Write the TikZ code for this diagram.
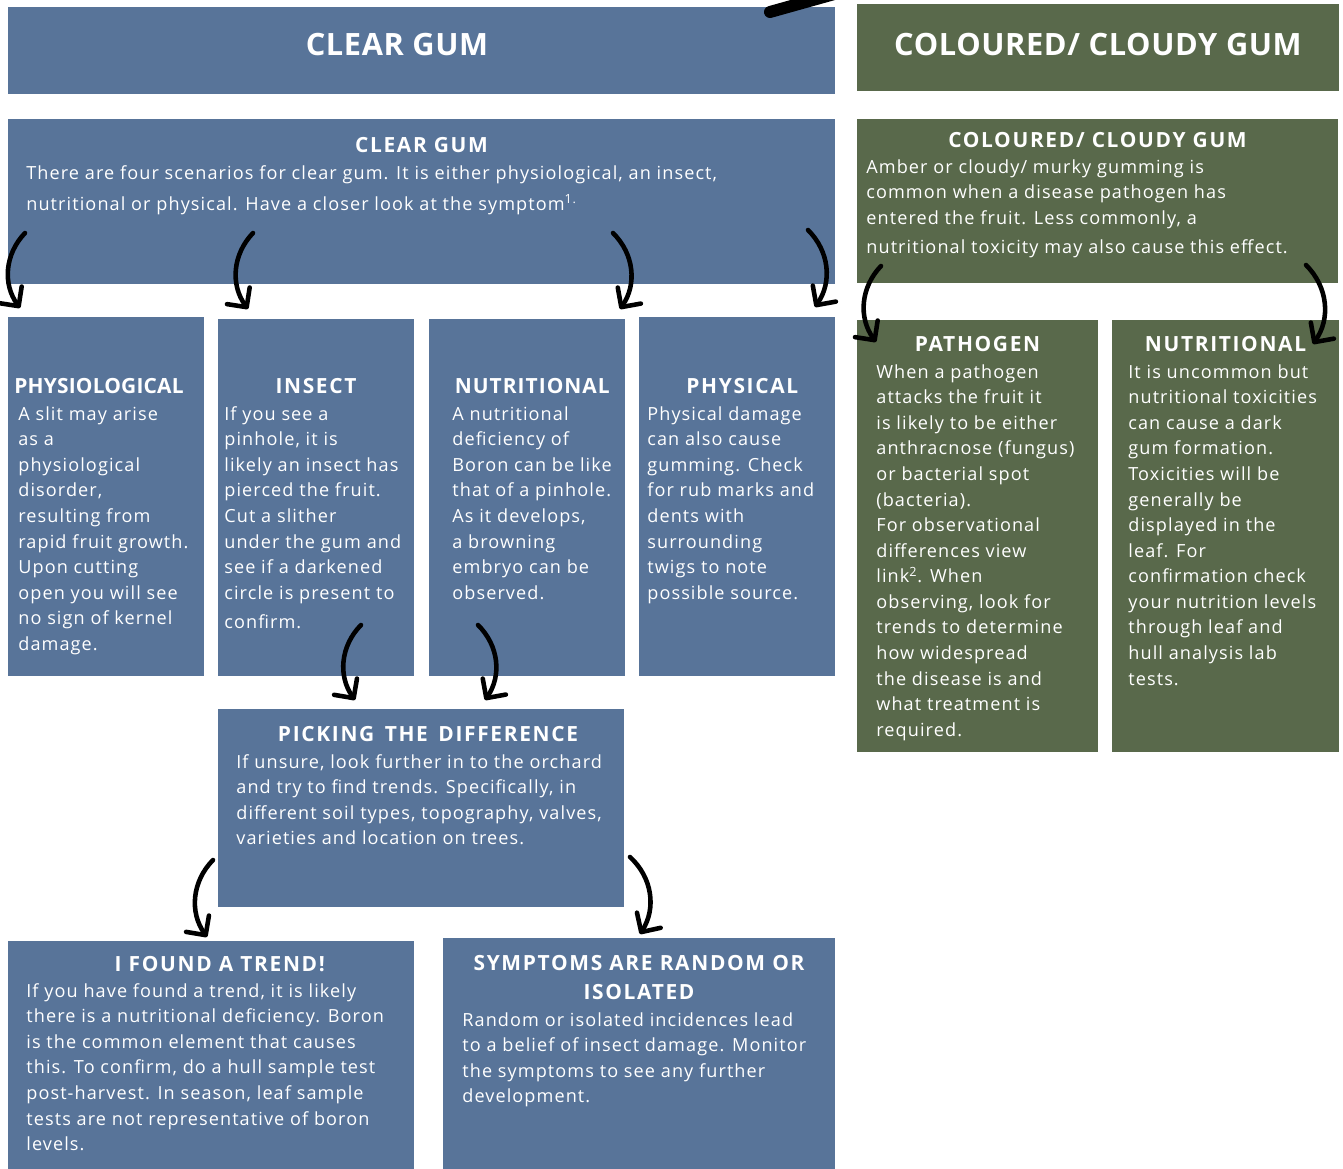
\documentclass[tikz,border=0pt]{standalone}
\usepackage{fontspec}
\setmainfont{Open Sans}
\usetikzlibrary{arrows.meta,fit}
\definecolor{gumblue}{RGB}{88,116,153}
\definecolor{gumgreen}{RGB}{89,105,75}
\tikzset{
  box/.style={inner sep=0pt, outer sep=0pt, text=white},
  bluebox/.style={box, fill=gumblue},
  greenbox/.style={box, fill=gumgreen},
  hdr/.style={text=white, inner sep=0pt,
    font=\fontsize{17.5}{20}\selectfont\bfseries\addfontfeatures{LetterSpace=2}},
  ttl/.style={text=white, inner sep=0pt, anchor=north, align=center,
    font=\fontsize{11.9}{16.5}\selectfont\bfseries\addfontfeatures{LetterSpace=8}},
  txt/.style={text=white, inner sep=0pt, anchor=north west, align=left,
    font=\fontsize{10.3}{14.56}\selectfont\addfontfeatures{LetterSpace=6}},
  arr/.style={line width=2.6pt, line cap=round,
    -{Straight Barb[length=8pt,width=16pt,round]}},
}
\begin{document}
\begin{tikzpicture}[x=0.02cm,y=-0.02cm]
  \useasboundingbox (0,0) rectangle (1343,1169);
  % headers
  \node[bluebox, fit={(8,7) (835,94)}] (clearhdr) {};
  \node[greenbox, fit={(857,4) (1339,91)}] (colhdr) {};
  \node[hdr] (clearhdr-t) at (397,45) {CLEAR GUM};
  \node[hdr] (colhdr-t) at (colhdr.center |- 0,45) {COLOURED/ CLOUDY GUM};
  \draw[line width=0.24cm, line cap=round] (770,12) -- (870,-16);

  % boxes
  \node[bluebox, fit={(8,119) (835,284)}] (clear) {};
  \node[greenbox, fit={(857,119) (1338,283)}] (coloured) {};
  \node[bluebox, fit={(8,317) (204,676)}] (physio) {};
  \node[bluebox, fit={(218,319) (414,676)}] (insect) {};
  \node[bluebox, fit={(429,319) (625,676)}] (nutri) {};
  \node[bluebox, fit={(639,317) (835,676)}] (physical) {};
  \node[greenbox, fit={(857,320) (1098,752)}] (pathogen) {};
  \node[greenbox, fit={(1112,320) (1339,752)}] (toxic) {};
  \node[bluebox, fit={(218,709) (624,907)}] (picking) {};
  \node[bluebox, fit={(8,941) (414,1169)}] (trend) {};
  \node[bluebox, fit={(443,938) (835,1169)}] (random) {};

  % titles
  \node[ttl] (clear-h) at (clear.north |- 0,137) {CLEAR GUM};
  \node[ttl] (coloured-h) at (coloured.north |- 0,132) {COLOURED/ CLOUDY GUM};
  \node[ttl] (physio-h) at ([xshift=-4]physio.north |- 0,378) {\addfontfeatures{LetterSpace=1}PHYSIOLOGICAL};
  \node[ttl] (insect-h) at (insect.north |- 0,378) {INSECT};
  \node[ttl] (nutri-h) at ([xshift=3]nutri.north |- 0,378) {\addfontfeatures{LetterSpace=5}NUTRITIONAL};
  \node[ttl] (physical-h) at ([xshift=3]physical.north |- 0,378) {PHYSICAL};
  \node[ttl] (pathogen-h) at (pathogen.north |- 0,336) {PATHOGEN};
  \node[ttl] (toxic-h) at (toxic.north |- 0,336) {NUTRITIONAL};
  \node[ttl] (picking-h) at ([xshift=4]picking.north |- 0,726) {PICKING\hspace{0.5em}THE\hspace{0.5em}DIFFERENCE};
  \node[ttl] (trend-h) at ([xshift=5]trend.north |- 0,956) {I FOUND A TREND!};
  \node[ttl] (random-h) at (random.north |- 0,955) {SYMPTOMS ARE RANDOM OR\\ISOLATED};

  % texts
  \node[txt] (clear-t) at (26,165) {There are four scenarios for clear gum. It is either physiological, an insect,\\[3pt]
    nutritional or physical. Have a closer look at the symptom\textsuperscript{1.}};
  \node[txt] (coloured-t) at (866,159) {Amber or cloudy/ murky gumming is\\
    common when a disease pathogen has\\
    entered the fruit. Less commonly, a\\[2pt]
    nutritional toxicity may also cause this effect.};
  \node[txt] (physio-t) at (18,406) {A slit may arise\\as a\\physiological\\disorder,\\resulting from\\
    rapid fruit growth.\\Upon cutting\\open you will see\\no sign of kernel\\damage.};
  \node[txt] (insect-t) at (224,406) {If you see a\\pinhole, it is\\likely an insect has\\pierced the fruit.\\
    Cut a slither\\under the gum and\\see if a darkened\\circle is present to\\[2pt]confirm.};
  \node[txt] (nutri-t) at (452,406) {A nutritional\\deficiency of\\Boron can be like\\that of a pinhole.\\
    As it develops,\\a browning\\embryo can be\\observed.};
  \node[txt] (physical-t) at (647,406) {Physical damage\\can also cause\\gumming. Check\\for rub marks and\\
    dents with\\surrounding\\twigs to note\\possible source.};
  \node[txt] (pathogen-t) at (876,364) {When a pathogen\\attacks the fruit it\\is likely to be either\\
    anthracnose (fungus)\\or bacterial spot\\(bacteria).\\For observational\\differences view\\
    link\textsuperscript{2}. When\\observing, look for\\trends to determine\\how widespread\\
    the disease is and\\what treatment is\\required.};
  \node[txt] (toxic-t) at (1128,364) {It is uncommon but\\nutritional toxicities\\can cause a dark\\gum formation.\\
    Toxicities will be\\generally be\\displayed in the\\leaf. For\\confirmation check\\
    your nutrition levels\\through leaf and\\hull analysis lab\\tests.};
  \node[txt] (picking-t) at (236,754) {If unsure, look further in to the orchard\\
    and try to find trends. Specifically, in\\different soil types, topography, valves,\\
    varieties and location on trees.};
  \node[txt] (trend-t) at (26,983) {If you have found a trend, it is likely\\there is a nutritional deficiency. Boron\\
    is the common element that causes\\this. To confirm, do a hull sample test\\
    post-harvest. In season, leaf sample\\tests are not representative of boron\\levels.};
  \node[txt] (random-t) at (462,1012) {Random or isolated incidences lead\\to a belief of insect damage. Monitor\\
    the symptoms to see any further\\development.};

  % arrows
  \draw[arr] ([shift={(17,-51)}]clear.south west) to[bend right=40] ([shift={(12,-9)}]physio.north west);
  \draw[arr] ([shift={(245,-51)}]clear.south west) to[bend right=40] ([shift={(30,-10)}]insect.north west);
  \draw[arr] ([shift={(605,-51)}]clear.south west) to[bend left=40] ([shift={(-5,-10)}]nutri.north east);
  \draw[arr] ([shift={(-27,-54)}]clear.south east) to[bend left=40] ([shift={(-20,-10)}]physical.north east);
  \draw[arr] ([shift={(24,-17)}]coloured.south west) to[bend right=40] ([shift={(19,22)}]pathogen.north west);
  \draw[arr] ([shift={(-32,-18)}]coloured.south east) to[bend left=40] ([shift={(-26,24)}]toxic.north east);
  \draw[arr] ([shift={(-53,-51)}]insect.south east) to[bend right=40] ([shift={(137,-9)}]picking.north west);
  \draw[arr] ([shift={(49,-51)}]nutri.south west) to[bend left=40] ([shift={(267,-9)}]picking.north west);
  \draw[arr] ([shift={(-5,-47)}]picking.south west) to[bend right=40] ([shift={(199,-4)}]trend.north west);
  \draw[arr] ([shift={(6,-50)}]picking.south east) to[bend left=40] ([shift={(197,-4)}]random.north west);
\end{tikzpicture}
\end{document}
